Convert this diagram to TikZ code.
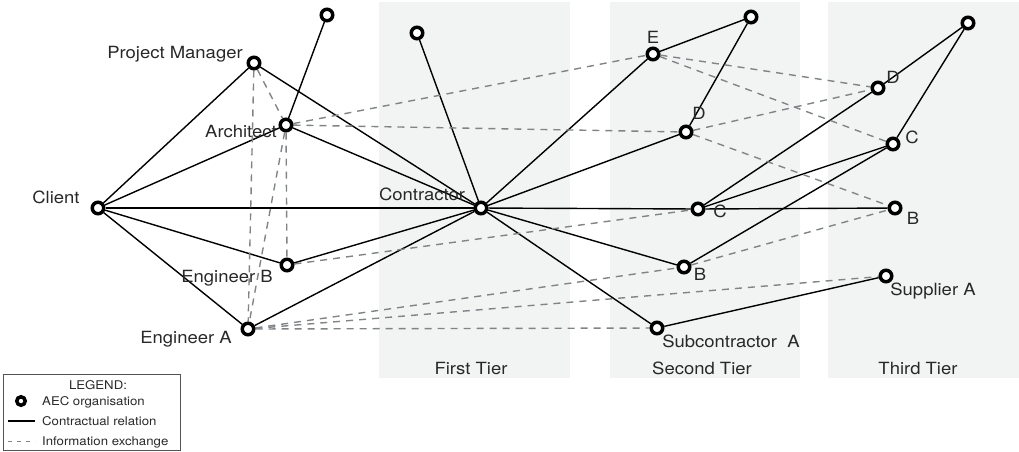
\documentclass[tikz,border=0pt]{standalone}
\usepackage{fontspec}
\setmainfont{TeX Gyre Heros}[FakeStretch=1.1]
\pgfdeclarelayer{tiers}
\pgfdeclarelayer{edges}
\pgfsetlayers{tiers,edges,main}
\definecolor{tiercol}{RGB}{242,243,243}
\definecolor{infocol}{RGB}{128,132,135}
\definecolor{labcol}{RGB}{40,40,40}
\tikzset{
  org/.style={circle, draw=black, line width=3.5pt, fill=white, minimum size=11.5pt, inner sep=0pt},
  con/.style={line width=1.4pt, black},
  info/.style={line width=1.4pt, infocol, dash pattern=on 7pt off 6pt},
  lab/.style={font=\fontsize{16.8}{18}\selectfont, text=labcol, inner sep=0pt, anchor=base},
  leg/.style={font=\fontsize{12}{14}\selectfont, text=labcol, inner sep=0pt, anchor=base west},
  tier/.style={fill=tiercol, draw=none}
}
\begin{document}
\begin{tikzpicture}[x=1pt,y=-1pt]
\useasboundingbox (0,0) rectangle (1019,451);
% tiers
\begin{pgfonlayer}{tiers}
\fill[tier] (379,2) rectangle (570,378);
\fill[tier] (610,2) rectangle (800,378);
\fill[tier] (828,2) rectangle (1019,378);
\end{pgfonlayer}
\node[lab] (t1) at (471,374) {First Tier};
\node[lab] (t2) at (702,374) {Second Tier};
\node[lab] (t3) at (918,374) {Third Tier};
% nodes
\node[org] (client) at (98,208) {};
\node[org] (pm) at (254,63) {};
\node[org] (arch) at (286,125) {};
\node[org] (archtop) at (327,15) {};
\node[org] (engb) at (287,265) {};
\node[org] (enga) at (248,329) {};
\node[org] (contr) at (481,208) {};
\node[org] (ft) at (417,33) {};
\node[org] (e2) at (653,54) {};
\node[org] (etop) at (751,17) {};
\node[org] (d2) at (686,132) {};
\node[org] (c2) at (698,209) {};
\node[org] (b2) at (684,267) {};
\node[org] (suba) at (657,328) {};
\node[org] (d3) at (878,88) {};
\node[org] (dtop) at (968,23) {};
\node[org] (c3) at (893,144) {};
\node[org] (b3) at (895,208) {};
\node[org] (supa) at (886,276) {};
% labels
\node[lab] (lpm) at (175,58) {Project Manager};
\node[lab] (larch) at (241,137) {Architect};
\node[lab] (lclient) at (56,203) {Client};
\node[lab] (lcontr) at (422,200) {Contractor};
\node[lab] (lengb) at (227,282) {Engineer B};
\node[lab] (lenga) at (186,343) {Engineer A};
\node[lab] (le2) at (653,43) {E};
\node[lab] (ld2) at (699,119) {D};
\node[lab] (lc2) at (720,217) {C};
\node[lab] (lb2) at (700,280) {B};
\node[lab] (lsuba) at (731,347) {Subcontractor\ \ A};
\node[lab] (ld3) at (893,83) {D};
\node[lab] (lc3) at (912,143) {C};
\node[lab] (lb3) at (913,224) {B};
\node[lab] (lsupa) at (933,295) {Supplier A};
% edges
\begin{pgfonlayer}{edges}
\draw[con] (client) -- (pm);
\draw[con] (client) -- (arch);
\draw[con] (client) -- (contr);
\draw[con] (client) -- (engb);
\draw[con] (client) -- (enga);
\draw[con] (pm) -- (contr);
\draw[con] (arch) -- (contr);
\draw[con] (arch) -- (archtop);
\draw[con] (contr) -- (engb);
\draw[con] (contr) -- (enga);
\draw[con] (contr) -- (ft);
\draw[con] (contr) -- (e2);
\draw[con] (contr) -- (d2);
\draw[con] (contr) -- (c2);
\draw[con] (contr) -- (b2);
\draw[con] (contr) -- (suba);
\draw[con] (c2) -- (b3);
\draw[con] (e2) -- (etop);
\draw[con] (etop) -- (d2);
\draw[con] (c2) -- (d3);
\draw[con] (c2) -- (c3);
\draw[con] (b2) -- (c3);
\draw[con] (d3) -- (dtop);
\draw[con] (dtop) -- (c3);
\draw[con] (suba) -- (supa);
% info
\draw[info] (pm) -- (arch);
\draw[info] (pm) -- (enga);
\draw[info] (arch) -- (engb);
\draw[info] (arch) -- (enga);
\draw[info] (arch) -- (e2);
\draw[info] (arch) -- (d2);
\draw[info] (e2) -- (d3);
\draw[info] (e2) -- (c3);
\draw[info] (d2) -- (d3);
\draw[info] (d2) -- (b3);
\draw[info] (engb) -- (c2);
\draw[info] (b2) -- (b3);
\draw[info] (enga) -- (b2);
\draw[info] (enga) -- (supa);
\draw[info] (enga) -- (suba);
\end{pgfonlayer}
% legend
\node[draw=labcol!80, line width=0.8pt, minimum width=177pt, minimum height=76pt, inner sep=0pt] (legbox) at (91.5,412) {};
\node[font=\fontsize{12}{14}\selectfont, text=labcol, inner sep=0pt, anchor=base] (legt) at (98,389) {LEGEND:};
\node[org, minimum size=8.5pt] (legorg) at (21,401) {};
\node[leg] (legl1) at (42,405) {AEC organisation};
\coordinate (lc1) at (8,421);
\coordinate (lc2) at (35,421);
\draw[con] (lc1) -- (lc2);
\node[leg] (legl2) at (42,425) {Contractual relation};
\coordinate (li1) at (8,441);
\coordinate (li2) at (35,441);
\draw[info, line width=1pt, dash pattern=on 4pt off 5pt] (li1) -- (li2);
\node[leg] (legl3) at (42,445) {Information exchange};
\end{tikzpicture}
\end{document}
